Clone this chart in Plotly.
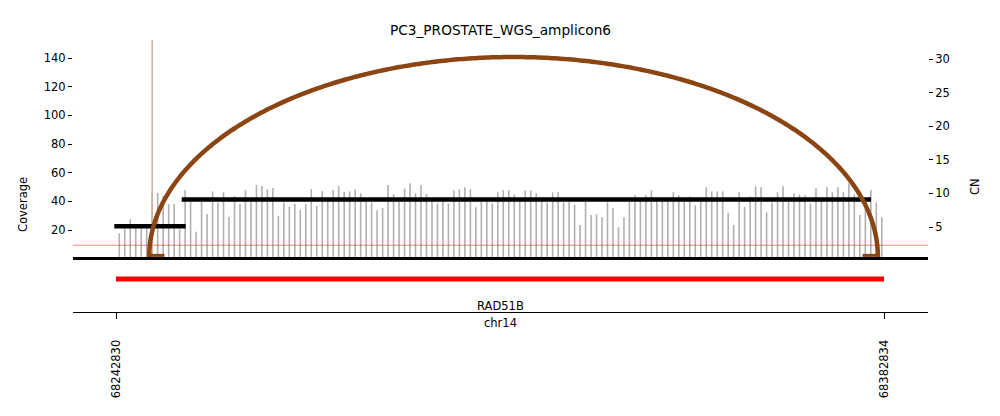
import numpy as np
import plotly.graph_objects as go

# ---------------- data ----------------
title_text = "PC3_PROSTATE_WGS_amplicon6"
chrom = "chr14"
x_tick_vals = [68242830, 68382834]
x_tick_text = ["68242830", "68382834"]

bin_start = 68243430
bin_size = 1000
coverage = [
    17.7, 21.2, 27.5, 22.0, 22.0, 22.0, 46.0, 46.0, 43.8, 38.0,
    38.2, 20.5, 48.0, 41.0, 18.8, 39.8, 31.2, 47.0, 39.0, 46.3,
    29.3, 43.8, 38.2, 48.0, 41.5, 51.4, 50.7, 48.5, 49.3, 29.8,
    39.0, 36.2, 38.4, 34.0, 38.2, 48.6, 36.8, 47.2, 40.0, 48.0,
    50.7, 46.5, 47.0, 48.4, 45.6, 40.0, 39.3, 33.8, 35.4, 51.4,
    45.1, 40.0, 49.1, 52.6, 45.6, 51.4, 45.1, 40.0, 38.6, 40.0,
    38.6, 47.7, 48.4, 49.8, 48.4, 35.9, 40.0, 40.0, 38.6, 46.3,
    47.7, 47.7, 44.9, 40.0, 47.7, 47.7, 45.6, 40.0, 39.3, 46.3,
    46.3, 39.3, 39.8, 37.5, 23.5, 39.8, 30.5, 31.0, 29.1, 39.3,
    35.4, 21.9, 28.9, 40.0, 44.2, 40.0, 44.2, 47.7, 41.0, 41.0,
    41.0, 46.3, 44.2, 41.0, 43.5, 37.2, 41.0, 49.8, 47.0, 47.0,
    47.0, 32.1, 23.5, 46.3, 36.1, 43.5, 50.5, 49.8, 32.4, 39.3,
    46.3, 50.5, 41.0, 45.6, 44.9, 44.2, 38.6, 49.1, 41.0, 49.8,
    46.3, 49.8, 46.3, 52.6, 45.0, 30.5, 42.0, 48.0, 39.3, 28.9,
]
spike_pos = [68249430]
spike_cov = [165]
coverage_ref = 9.4

seg_start = [68242520, 68254807]
seg_end = [68255536, 68380463]
seg_cn = [5.1, 9.1]

bp_left = [68248880]
bp_right = [68381720]
bp_height = [30.3]

gene_names = ["RAD51B"]
gene_start = [68242830]
gene_end = [68382834]

cov_ticks = [20, 40, 60, 80, 100, 120, 140]
cn_ticks = [5, 10, 15, 20, 25, 30]

# ---------------- layout constants ----------------
W, H = 1000, 416
L, R = 73, 928
x_range = [68234991, 68390855]
cov_range = [1.19, 152.6]
cn_range = [0.536, 32.83]
FONT = "DejaVu Sans"


def py(px):
    return (H - px) / H


def pxx(px):
    return (px - L) / (R - L)


fig = go.Figure()

# coverage bars as thin vertical strokes
bx, by = [], []
for k, c in enumerate(coverage):
    xpos = bin_start + bin_size * k
    bx += [xpos, xpos, None]
    by += [0, c, None]
fig.add_trace(go.Scatter(x=bx, y=by, mode="lines", xaxis="x", yaxis="y",
                         line=dict(color="#b0b0b0", width=1.6, simplify=False),
                         hoverinfo="skip", showlegend=False))

# reference line
fig.add_trace(go.Scatter(x=x_range, y=[coverage_ref, coverage_ref], mode="lines",
                         xaxis="x", yaxis="y",
                         line=dict(color="rgba(255,0,0,0.5)", width=1),
                         hoverinfo="skip", showlegend=False))

# spike
sx, sy = [], []
for p, c in zip(spike_pos, spike_cov):
    sx += [p, p, None]
    sy += [0, c, None]
fig.add_trace(go.Scatter(x=sx, y=sy, mode="lines", xaxis="x", yaxis="y",
                         line=dict(color="#d2b29c", width=1.6),
                         hoverinfo="skip", showlegend=False))

# CN segments
cx, cy = [], []
for s, e, c in zip(seg_start, seg_end, seg_cn):
    cx += [s, e, None]
    cy += [c, c, None]
fig.add_trace(go.Scatter(x=cx, y=cy, mode="lines", xaxis="x", yaxis="y2",
                         line=dict(color="black", width=4.5),
                         hoverinfo="skip", showlegend=False))

# breakpoint arcs
t = np.linspace(0, np.pi, 400)
base = cn_range[0]
for l_, r_, h_ in zip(bp_left, bp_right, bp_height):
    xc = (l_ + r_) / 2
    a = (r_ - l_) / 2
    ax_ = xc - a * np.cos(t)
    ay_ = base + (h_ - base) * np.sin(t)
    fig.add_trace(go.Scatter(x=ax_, y=ay_, mode="lines", xaxis="x", yaxis="y2",
                             line=dict(color="#8B4513", width=4.5, simplify=False),
                             hoverinfo="skip", showlegend=False))
    stub_y = 0.78
    fig.add_trace(go.Scatter(x=[l_ - 300, l_ + 2800, None, r_ - 2800, r_ + 300],
                             y=[stub_y, stub_y, None, stub_y, stub_y],
                             mode="lines", xaxis="x", yaxis="y2",
                             line=dict(color="#8B4513", width=3),
                             hoverinfo="skip", showlegend=False))

# genes
gx, gy = [], []
for s, e in zip(gene_start, gene_end):
    gx += [s, e, None]
    gy += [0.66, 0.66, None]
fig.add_trace(go.Scatter(x=gx, y=gy, mode="lines", xaxis="x2", yaxis="y3",
                         line=dict(color="#ff0000", width=5),
                         hoverinfo="skip", showlegend=False))

tickfont = dict(family=FONT, size=11.5, color="black")

annotations = [
    dict(text=title_text, x=pxx(500), y=py(30), xref="paper", yref="paper",
         showarrow=False, font=dict(family=FONT, size=13.7, color="black"),
         xanchor="center", yanchor="middle"),
    dict(text="Coverage", x=pxx(23), y=py(205), xref="paper", yref="paper",
         showarrow=False, textangle=-90, font=tickfont,
         xanchor="center", yanchor="middle"),
    dict(text="CN", x=pxx(975), y=py(187), xref="paper", yref="paper",
         showarrow=False, textangle=-90, font=tickfont,
         xanchor="center", yanchor="middle"),
    dict(text=chrom, x=pxx(500), y=py(323), xref="paper", yref="paper",
         showarrow=False, font=tickfont, xanchor="center", yanchor="middle"),
]
for name, s, e in zip(gene_names, gene_start, gene_end):
    annotations.append(dict(text=name, x=(s + e) / 2, y=py(306), xref="x", yref="paper",
                            showarrow=False, font=tickfont,
                            xanchor="center", yanchor="middle"))

fig.update_layout(
    width=W, height=H, autosize=False,
    margin=dict(l=L, r=W - R, t=0, b=0, pad=0),
    paper_bgcolor="white", plot_bgcolor="white",
    showlegend=False, hovermode=False,
    font=dict(family=FONT, color="black"),
    xaxis=dict(domain=[0, 1], range=x_range, anchor="y",
               showline=True, linecolor="black", linewidth=3,
               showgrid=False, zeroline=False, showticklabels=False,
               tickvals=x_range, ticks="inside", ticklen=4, tickwidth=1.5, tickcolor="black"),
    yaxis=dict(domain=[py(257), py(40)], range=cov_range, anchor="x",
               showline=False, showgrid=False, zeroline=False,
               tickvals=cov_ticks, ticks="outside", ticklen=4, tickwidth=1, tickcolor="black",
               tickfont=tickfont),
    yaxis2=dict(overlaying="y", side="right", range=cn_range, anchor="x",
                showline=False, showgrid=False, zeroline=False,
                tickvals=cn_ticks, ticks="outside", ticklen=4, tickwidth=1, tickcolor="black",
                tickfont=tickfont),
    xaxis2=dict(domain=[0, 1], range=x_range, matches="x", anchor="y3",
                showline=True, linecolor="black", linewidth=1.3,
                showgrid=False, zeroline=False,
                tickvals=x_tick_vals, ticktext=x_tick_text, tickangle=-90,
                ticks="outside", ticklen=6, tickwidth=0.8, tickcolor="black",
                ticklabelstandoff=16, tickfont=tickfont),
    yaxis3=dict(domain=[py(312), py(262)], range=[0, 1], anchor="x2",
                visible=False),
    annotations=annotations,
)

fig.write_html("out.html")
